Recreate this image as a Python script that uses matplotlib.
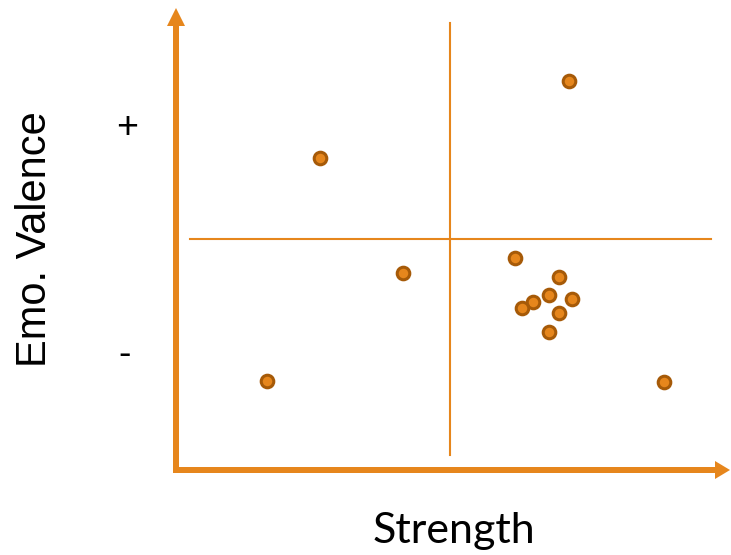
import matplotlib.pyplot as plt

# Datos (unidades de la gráfica: origen en la esquina de los ejes)
strength = [393, 144, 227, 339, 383, 373, 357, 346, 396, 383, 373, 91, 488]
valence = [389, 312, 197, 212, 193, 175, 168, 162, 171, 157, 138, 89, 88]

# Cruz central
cross_x = 274
cross_y = 231
cross_x_range = [14, 535]
cross_y_range = [15, 447]

orange = "#E6861C"
edge = "#A65A08"

fig = plt.figure(figsize=(7.31, 5.55), dpi=100)
ax = fig.add_axes([0, 0, 1, 1])
ax.set_xlim(-176, 555)
ax.set_ylim(-85, 470)
ax.axis("off")

# Ejes con flecha
ax.arrow(0, -3, 0, 465, width=6, head_width=18, head_length=18,
         length_includes_head=True, color=orange, lw=0)
ax.arrow(-3, 0, 557, 0, width=6, head_width=18, head_length=15,
         length_includes_head=True, color=orange, lw=0)

# Líneas de cuadrantes
ax.plot([cross_x, cross_x], cross_y_range, color=orange, lw=1.5)
ax.plot(cross_x_range, [cross_y, cross_y], color=orange, lw=1.5)

# Puntos
ax.scatter(strength, valence, s=82, color=orange, edgecolors=edge,
           linewidths=2.2, zorder=3)

# Textos
ax.text(-141, 231, "Emo. Valence", rotation=90, ha="center", va="center",
        fontsize=30, family="Liberation Sans")
ax.text(-49, 342, "+", ha="center", va="center", fontsize=27,
        family="Liberation Sans")
ax.text(-51, 115, "-", ha="center", va="center", fontsize=27,
        family="Liberation Sans")
ax.text(278, -61, "Strength", ha="center", va="center", fontsize=31,
        family="Lato")

fig.savefig("out.png", dpi=100)
